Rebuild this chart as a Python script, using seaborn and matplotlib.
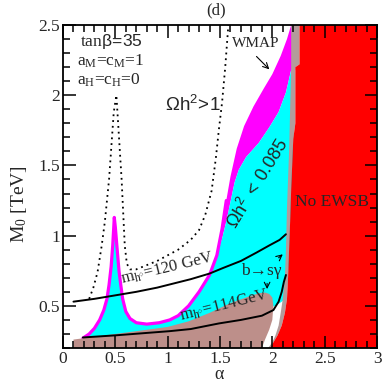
import numpy as np
import pandas as pd
import matplotlib
matplotlib.use('Agg')
import matplotlib.pyplot as plt
from matplotlib.ticker import MultipleLocator
import seaborn as sns

# WMAP outer edge (magenta), spike at alpha=0.5 then main band
wmap_outer_a = [0.19, 0.25, 0.30, 0.35, 0.39, 0.42, 0.44, 0.46, 0.475, 0.485, 0.49, 0.50, 0.52, 0.535, 0.55, 0.57,
                0.60, 0.64, 0.70, 0.80, 0.92, 1.02, 1.10, 1.20, 1.30, 1.40, 1.47, 1.52, 1.56, 1.60, 1.66, 1.73,
                1.82, 1.92, 2.00, 2.08, 2.14, 2.18]
wmap_outer_m = [0.27, 0.30, 0.34, 0.40, 0.47, 0.55, 0.65, 0.78, 0.93, 1.06, 1.13, 1.06, 0.88, 0.75, 0.66, 0.55,
                0.46, 0.41, 0.38, 0.37, 0.38, 0.40, 0.43, 0.50, 0.60, 0.72, 0.86, 1.05, 1.25, 1.42, 1.62, 1.78,
                1.92, 2.05, 2.15, 2.28, 2.40, 2.50]
# Omega h^2 = 0.085 edge (cyan / magenta boundary)
cyan_edge_a = [1.47, 1.52, 1.56, 1.60, 1.64, 1.68, 1.75, 1.87, 1.97, 2.06, 2.13, 2.18]
cyan_edge_m = [0.86, 0.98, 1.10, 1.24, 1.38, 1.47, 1.56, 1.66, 1.77, 1.88, 2.02, 2.18]
# grey strip next to the no-EWSB region
strip_a = [2.18, 2.18, 2.17, 2.16, 2.14, 2.13, 2.12, 2.10, 2.08, 2.06, 2.03, 2.00, 1.96]
strip_m = [2.50, 2.20, 1.90, 1.60, 1.20, 0.90, 0.70, 0.55, 0.45, 0.36, 0.29, 0.24, 0.20]
# no EWSB boundary
ewsb_a = [2.26, 2.26, 2.22, 2.22, 2.20, 2.18, 2.17, 2.16, 2.15, 2.14, 2.12, 2.09, 2.05, 2.01, 1.98]
ewsb_m = [2.50, 2.22, 2.20, 1.80, 1.69, 1.33, 1.10, 0.90, 0.70, 0.55, 0.45, 0.36, 0.29, 0.24, 0.20]
# m_h < 114 GeV excluded (brown)
lep_a = [0.10, 0.10, 0.50, 1.00, 1.20, 1.40, 1.60, 1.75, 1.87, 1.93, 1.97, 2.00, 2.01, 2.00, 1.97, 1.93, 1.90]
lep_m = [0.20, 0.26, 0.30, 0.35, 0.39, 0.45, 0.52, 0.56, 0.59, 0.595, 0.585, 0.56, 0.50, 0.40, 0.33, 0.26, 0.20]
# Higgs mass contours
mh120_a = [0.10, 0.30, 0.50, 0.70, 0.90, 1.06, 1.22, 1.40, 1.53, 1.70, 1.85, 1.97, 2.07, 2.13]
mh120_m = [0.53, 0.55, 0.575, 0.60, 0.63, 0.66, 0.69, 0.73, 0.77, 0.82, 0.88, 0.93, 0.97, 1.01]
mh114_a = [0.19, 0.50, 1.02, 1.22, 1.49, 1.70, 1.90, 2.01, 2.06, 2.09, 2.11, 2.13]
mh114_m = [0.275, 0.29, 0.32, 0.335, 0.375, 0.40, 0.43, 0.47, 0.53, 0.60, 0.67, 0.72]
# Omega h^2 = 1 contour (dotted)
omega1_a = [0.25, 0.29, 0.33, 0.37, 0.40, 0.44, 0.485, 0.51, 0.52, 0.56, 0.59, 0.61, 0.64, 0.70, 0.80, 0.90,
            1.00, 1.10, 1.22, 1.30, 1.36, 1.42, 1.46, 1.49, 1.52, 1.55, 1.58]
omega1_m = [0.55, 0.63, 0.74, 0.93, 1.10, 1.40, 1.88, 2.00, 1.88, 1.40, 0.93, 0.80, 0.76, 0.76, 0.79, 0.82,
            0.86, 0.90, 0.97, 1.04, 1.15, 1.32, 1.55, 1.76, 1.95, 2.20, 2.50]

sns.set_style("ticks")
plt.rcParams['font.family'] = ['Liberation Serif', 'DejaVu Serif']
plt.rcParams['mathtext.fontset'] = 'custom'
plt.rcParams['mathtext.rm'] = 'Liberation Serif'
plt.rcParams['mathtext.it'] = 'Liberation Serif:italic'
plt.rcParams['mathtext.sf'] = 'Liberation Sans'

fig = plt.figure(figsize=(3.82, 3.82), dpi=100)
ax = fig.add_axes([63 / 382, 34 / 382, 314 / 382, 323 / 382])

# magenta WMAP band; pushed a little under the grey strip so no gap shows
magenta_poly_a = wmap_outer_a[26:] + [2.22, 2.22] + cyan_edge_a[::-1]
magenta_poly_m = wmap_outer_m[26:] + [2.50, 2.18] + cyan_edge_m[::-1]
ax.fill(magenta_poly_a, magenta_poly_m, color="#ff00ff", lw=0, zorder=1)

cyan_a = wmap_outer_a[:27] + cyan_edge_a[1:] + [2.21, 2.20, 2.18, 2.16, 2.13, 2.03, 1.0]
cyan_m = wmap_outer_m[:27] + cyan_edge_m[1:] + [2.18, 1.60, 1.20, 0.80, 0.55, 0.50, 0.30]
ax.fill(cyan_a, cyan_m, color="#00ffff", lw=0, zorder=1.1)
ax.plot(wmap_outer_a[:29], wmap_outer_m[:29], color="#ff00ff", lw=2.3, zorder=1.2,
        solid_capstyle="round")

ax.fill(lep_a, lep_m, color="#bd8f8a", lw=0, zorder=1.3)
ax.fill(strip_a + ewsb_a[::-1], strip_m + ewsb_m[::-1], color="#b39b9b", lw=0, zorder=1.3)
ax.fill(ewsb_a + [3.0, 3.0], ewsb_m + [0.2, 2.5], color="#ff0000", lw=0, zorder=1.4)

lines = pd.DataFrame({
    "alpha": mh120_a + mh114_a,
    "M0": mh120_m + mh114_m,
    "curve": ["mh120"] * len(mh120_a) + ["mh114"] * len(mh114_a),
})
sns.lineplot(data=lines, x="alpha", y="M0", units="curve", estimator=None, sort=False,
             color="black", lw=1.4, ax=ax, zorder=2)
ax.plot(omega1_a, omega1_m, color="black", lw=1.3, ls=(0, (1, 2.2)), zorder=2)

ax.set_xlim(0, 3)
ax.set_ylim(0.2, 2.5)
ax.set_axisbelow(False)
ax.xaxis.set_minor_locator(MultipleLocator(0.1))
ax.yaxis.set_minor_locator(MultipleLocator(0.1))
ax.set_xticks(np.arange(0, 3.01, 0.5))
ax.set_xticklabels(["0", "0.5", "1", "1.5", "2", "2.5", "3"])
ax.set_yticks([0.5, 1.0, 1.5, 2.0, 2.5])
ax.set_yticklabels(["0.5", "1", "1.5", "2", "2.5"])
ax.tick_params(which="both", direction="in", top=True, right=True, width=1.1, labelsize=12.5, color="black")
ax.tick_params(which="major", length=9, pad=2)
ax.tick_params(which="minor", length=5)
for s in ax.spines.values():
    s.set_linewidth(1.3)
    s.set_color("black")
ax.set_xlabel("")
ax.set_ylabel("")
fig.text(219 / 382, 1 - 379 / 382, "α", fontsize=13, ha="center", va="baseline")
fig.text(19 / 382, 1 - 204 / 382, r"M$_0$ [TeV]", fontsize=14, ha="center", va="center", rotation=90)

ax.text(0.16, 2.385, r"tan$\mathsf{β\!=\!35}$", fontsize=12.5, va="center", ha="left")
ax.text(0.13, 2.245, r"a$_{\rm M}$=c$_{\rm M}$=1", fontsize=12.5, va="center", ha="left")
ax.text(0.13, 2.105, r"a$_{\rm H}$=c$_{\rm H}$=0", fontsize=12.5, va="center", ha="left")
ax.text(1.24, 1.93, r"$\mathsf{Ωh^2\!>\!1}$", fontsize=13.5, va="center", ha="center")
ax.text(1.86, 1.37, r"$\mathsf{Ωh^2\ <\ 0.085}$", fontsize=13, va="center", ha="center", rotation=58.5)
ax.text(1.84, 2.37, "WMAP", fontsize=11, va="center", ha="center")
ax.annotate("", xy=(1.99, 2.17), xytext=(1.83, 2.29),
            arrowprops=dict(arrowstyle="->", color="black", lw=0.8))
ax.text(2.57, 1.24, "No EWSB", fontsize=12.5, va="center", ha="center")
ax.text(1.0, 0.765, r"m$_{\rm h^{\circ}}$=120 GeV", fontsize=12, va="center", ha="center", rotation=13.5)
ax.text(1.54, 0.50, r"m$_{\rm h^{\circ}}$=114GeV", fontsize=12, va="center", ha="center", rotation=14)
ax.text(1.89, 0.745, "b→sγ", fontsize=12.5, va="center", ha="center")
ax.annotate("", xy=(1.95, 0.60), xytext=(1.95, 0.68),
            arrowprops=dict(arrowstyle="->", color="black", lw=0.8))
ax.annotate("", xy=(2.12, 0.88), xytext=(2.04, 0.83),
            arrowprops=dict(arrowstyle="->", color="black", lw=0.8))
fig.text(216 / 382, 1 - 10 / 382, "(d)", fontsize=12, ha="center", va="center")

fig.savefig("out.png", dpi=100)
